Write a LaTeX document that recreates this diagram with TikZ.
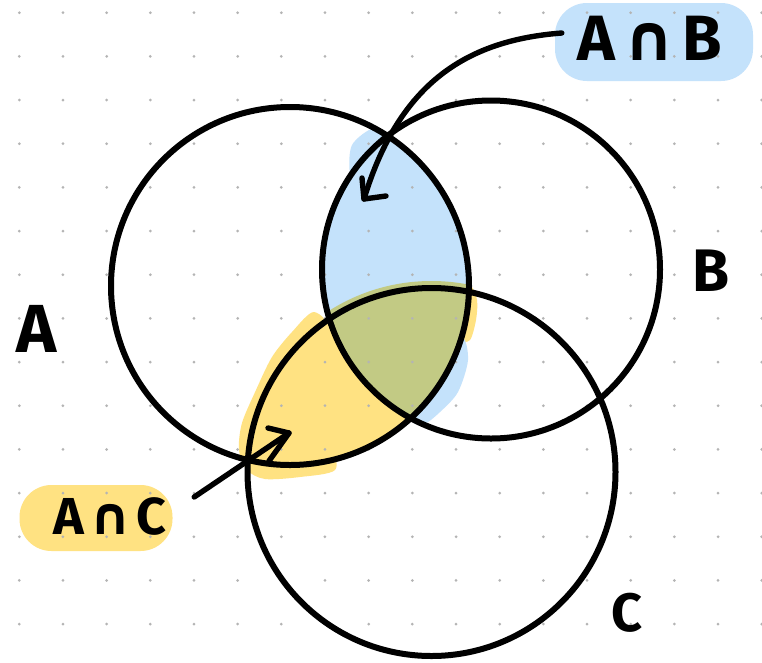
\documentclass[tikz,border=0pt]{standalone}
\usepackage{fontspec}
\setmainfont{Fira Sans}
\newfontfamily\symfont{DejaVu Sans}
\usetikzlibrary{arrows.meta,calc}
\definecolor{fillblue}{HTML}{C4E2FB}
\definecolor{fillyellow}{HTML}{FFE282}
\definecolor{fillgreen}{HTML}{C2CA84}
\definecolor{dotgray}{HTML}{B4B4B4}
\begin{document}
\begin{tikzpicture}[x=1pt,y=-1pt,
  ring/.style={draw=black,line width=6pt},
  arr/.style={draw=black,line width=5.4pt,line cap=round,line join=round},
  lbl/.style={inner sep=0pt,text=black},
  blob/.style={inner sep=0pt,rounded corners=32pt}]
\useasboundingbox (0,0) rectangle (762,662);
\fill[white] (0,0) rectangle (762,662);
\coordinate (cA) at (290,286);
\coordinate (cB) at (491,269.5);
\coordinate (cC) at (431.5,472);
% yellow region A and C
\begin{scope}
  \clip (cA) circle[radius=179];
  \fill[fillyellow] (cC) circle[radius=184];
\end{scope}
\fill[fillyellow] plot[smooth cycle] coordinates {(314,312) (292,332) (272,357) (256,390) (242,423) (239,450) (247,470) (265,479) (300,477) (335,470) (330,445) (300,400) (330,335)};
\fill[fillyellow] plot[smooth cycle] coordinates {(470,285) (477,300) (476,320) (470,340) (460,338) (462,300)};
% blue region A and B
\begin{scope}
  \clip (cA) circle[radius=179];
  \fill[fillblue] (cB) circle[radius=169];
\end{scope}
\fill[fillblue] plot[smooth cycle] coordinates {(374,128) (388,140) (380,200) (360,205) (350,175) (352,145)};
\fill[fillblue] plot[smooth cycle] coordinates {(462,338) (468,360) (458,392) (440,412) (424,424) (412,418) (440,370)};
% green region A and B and C
\begin{scope}
  \clip (cA) circle[radius=179];
  \clip (cB) circle[radius=169];
  \fill[fillgreen] (cC) circle[radius=191];
\end{scope}
% label backgrounds
\node[blob, fill=fillblue, minimum width=198pt, minimum height=78pt] (abbg) at (654,42) {};
\node[blob, fill=fillyellow, minimum width=153pt, minimum height=66pt] (acbg) at (96,518) {};
% dot grid
\foreach \i in {0,...,17}{\foreach \j in {0,...,14}{
  \fill[dotgray] ({19.3+43.67*\i},{12.7+43.67*\j}) circle[radius=1.5];}}
% circles
\draw[ring] (cA) circle[radius=179];
\draw[ring] (cB) circle[radius=169];
\draw[ring] (cC) circle[radius=184];
% arrows
\coordinate (abtip) at (364,199);
\coordinate (abbarbone) at (362,178);
\coordinate (abbarbtwo) at (386,196);
\coordinate (actip) at (289,433);
\coordinate (acbarbone) at (268,428);
\coordinate (acbarbtwo) at (269,461);
\draw[arr] ($(abbg.west)+(7,-9)$) .. controls (470,40) and (400,80) .. (abtip);
\draw[arr] (abbarbone) -- (abtip) -- (abbarbtwo);
\draw[arr] ($(acbg.east)+(21.5,-21)$) -- (actip);
\draw[arr] (acbarbone) -- (actip) -- (acbarbtwo);
% labels
\node[lbl, font=\bfseries\fontsize{64}{70}\selectfont] (ab) at (650,38) {A\hspace{0.12em}{\symfont ∩}\hspace{0.12em}B};
\node[lbl, font=\bfseries\fontsize{68}{72}\selectfont] (lA) at (37,329) {A};
\node[lbl, font=\bfseries\fontsize{60}{64}\selectfont] (lB) at (711,271) {B};
\node[lbl, font=\bfseries\fontsize{54}{58}\selectfont] (lC) at (627,613) {C};
\node[lbl, font=\bfseries\fontsize{52}{56}\selectfont] (ac) at (110,516) {A\hspace{0.1em}{\symfont ∩}\hspace{0.1em}C};
\end{tikzpicture}
\end{document}
